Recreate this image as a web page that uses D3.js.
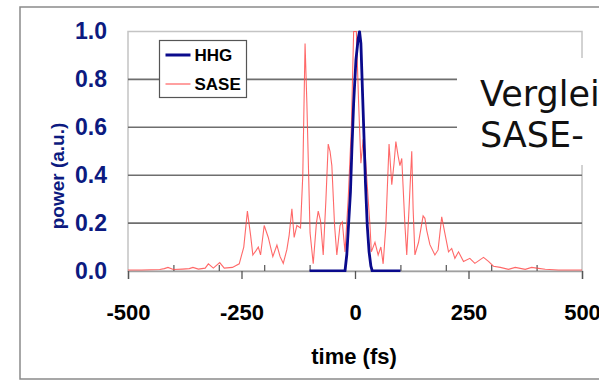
<!DOCTYPE html>
<html>
<head>
<meta charset="utf-8">
<script src="https://cdn.jsdelivr.net/npm/d3@7/dist/d3.min.js"></script>
<style>
  body { margin: 0; background: #fff; }
</style>
</head>
<body>
<div id="chart"></div>
<script>
// SASE pulse (time in fs, power in a.u.)
var saseTime = [-500, -470, -450, -430, -420, -412, -400, -380, -365, -357, -345, -330, -323, -312, -298, -288,
    -270, -255, -245, -237, -230, -225, -218, -213, -208, -200, -191, -181, -172, -165, -158, -150, -145, -139,
    -134, -128, -120, -115, -110, -106, -103, -99, -92, -85, -81, -76, -70, -64, -59, -55, -51, -45, -40, -33,
    -28, -22, -15, -8, -3, 3, 8, 13, 18, 22, 29, 33, 36, 44, 51, 57, 62, 68, 75, 81, 86, 90, 95, 99, 103, 110,
    114, 120, 125, 128, 132, 140, 150, 154, 158, 165, 176, 183, 191, 198, 206, 213, 220, 228, 239, 253, 264,
    283, 294, 305, 320, 338, 353, 375, 389, 404, 419, 448, 500];
var sasePower = [0.004, 0.004, 0.005, 0.006, 0.01, 0.015, 0.006, 0.008, 0.01, 0.015, 0.008, 0.012, 0.03, 0.012,
    0.035, 0.012, 0.015, 0.03, 0.1, 0.25, 0.15, 0.067, 0.085, 0.10, 0.067, 0.19, 0.14, 0.06, 0.108, 0.06, 0.032,
    0.09, 0.15, 0.26, 0.14, 0.19, 0.18, 0.4, 0.95, 0.7, 0.47, 0.16, 0.03, 0.2, 0.25, 0.21, 0.067, 0.3, 0.53, 0.5,
    0.44, 0.19, 0.067, 0.19, 0.205, 0.08, 0.30, 0.6, 1.0, 1.0, 0.7, 0.45, 0.55, 0.5, 0.30, 0.19, 0.08, 0.12,
    0.067, 0.10, 0.03, 0.19, 0.53, 0.36, 0.45, 0.54, 0.48, 0.44, 0.47, 0.19, 0.067, 0.3, 0.50, 0.26, 0.067,
    0.12, 0.23, 0.22, 0.17, 0.11, 0.067, 0.088, 0.226, 0.157, 0.08, 0.094, 0.053, 0.08, 0.04, 0.053, 0.032,
    0.057, 0.04, 0.02, 0.015, 0.007, 0.015, 0.007, 0.015, 0.011, 0.007, 0.004, 0.004];

// HHG pulse
var hhgTime = [-100, -22, -18, -14, -10, -7, -3, 2, 7, 10, 13, 17, 20, 23, 27, 31, 35, 38, 100];
var hhgPower = [0, 0, 0.07, 0.2, 0.33, 0.5, 0.7, 0.88, 0.97, 1.0, 0.95, 0.72, 0.55, 0.37, 0.19, 0.08, 0.02, 0, 0];

var xTicks = [-500, -250, 0, 250, 500];
var xMinorTicks = [-400, -300, -200, -100, 100, 200, 300, 400];
var yTicks = [0, 0.2, 0.4, 0.6, 0.8, 1.0];
var legendNames = ["HHG", "SASE"];
var overlayLines = ["Verglei", "SASE-"];

var width = 599;
var height = 381;

var svg = d3.select("#chart")
    .append("svg")
    .attr("width", width)
    .attr("height", height);

// outer frame of the slide picture
svg.append("path")
    .attr("d", "M599,7H20V379H599")
    .attr("fill", "none")
    .attr("stroke", "#8a8a8a")
    .attr("stroke-width", 1.5);

var x = d3.scaleLinear().domain([-500, 500]).range([128, 582]);
var y = d3.scaleLinear().domain([0, 1]).range([271, 31.5]);

// plot border (light) and grid lines (dark)
svg.append("rect")
    .attr("x", x(-500))
    .attr("y", y(1))
    .attr("width", x(500) - x(-500))
    .attr("height", y(0) - y(1))
    .attr("fill", "none")
    .attr("stroke", "#c4c4c4")
    .attr("stroke-width", 1.5);

svg.selectAll(".grid")
    .data(yTicks.filter(d => d > 0 && d < 1))
    .enter()
    .append("line")
    .attr("class", "grid")
    .attr("x1", x(-500))
    .attr("x2", x(500))
    .attr("y1", d => y(d))
    .attr("y2", d => y(d))
    .attr("stroke", "#6e6e6e")
    .attr("stroke-width", 1.6);

// x axis: major ticks below, minor ticks above
var xAxis = svg.append("g")
    .attr("transform", "translate(0," + y(0) + ")")
    .call(d3.axisBottom(x).tickValues(xTicks).tickSize(8).tickPadding(25).tickFormat(d => String(d)));
xAxis.select(".domain").attr("stroke", "#a0a0a0").attr("stroke-width", 1.5);
xAxis.selectAll(".tick line").attr("stroke", "#555").attr("stroke-width", 1.3);
xAxis.selectAll("text")
    .attr("font-family", "Liberation Sans, Arial, sans-serif")
    .attr("font-weight", "bold")
    .attr("font-size", 22)
    .attr("fill", "#000");

var xMinor = svg.append("g")
    .attr("transform", "translate(0," + y(0) + ")")
    .call(d3.axisBottom(x).tickValues(xMinorTicks).tickSize(-6).tickFormat(""));
xMinor.select(".domain").remove();
xMinor.selectAll(".tick line").attr("stroke", "#555").attr("stroke-width", 1.2);

// y axis labels
var yAxis = svg.append("g")
    .attr("transform", "translate(" + x(-500) + ",0)")
    .call(d3.axisLeft(y).tickValues(yTicks).tickSize(0).tickPadding(21).tickFormat(d3.format(".1f")));
yAxis.select(".domain").remove();
yAxis.selectAll("text")
    .attr("font-family", "Liberation Sans, Arial, sans-serif")
    .attr("font-weight", "bold")
    .attr("font-size", 23)
    .attr("fill", "#0c1a80");

svg.append("text")
    .attr("transform", "translate(64,176) rotate(-90)")
    .attr("text-anchor", "middle")
    .attr("font-family", "Liberation Sans, Arial, sans-serif")
    .attr("font-weight", "bold")
    .attr("font-size", 19)
    .attr("fill", "#0c1a80")
    .text("power (a.u.)");

svg.append("text")
    .attr("x", 354)
    .attr("y", 364)
    .attr("text-anchor", "middle")
    .attr("font-family", "Liberation Sans, Arial, sans-serif")
    .attr("font-weight", "bold")
    .attr("font-size", 22)
    .attr("fill", "#000")
    .text("time (fs)");

// the two pulses
svg.append("clipPath")
    .attr("id", "plotClip")
    .append("rect")
    .attr("x", x(-500))
    .attr("y", y(1) - 1)
    .attr("width", x(500) - x(-500))
    .attr("height", y(0) - y(1) + 2);

var line = d3.line()
    .x(d => x(d[0]))
    .y(d => y(d[1]));

svg.append("path")
    .datum(d3.zip(saseTime, sasePower))
    .attr("clip-path", "url(#plotClip)")
    .attr("d", line)
    .attr("fill", "none")
    .attr("stroke", "#ff4d4d")
    .attr("stroke-opacity", 0.85)
    .attr("stroke-width", 1.1);

svg.append("path")
    .datum(d3.zip(hhgTime, hhgPower))
    .attr("clip-path", "url(#plotClip)")
    .attr("d", line)
    .attr("fill", "none")
    .attr("stroke", "#0a0a8c")
    .attr("stroke-width", 2.8)
    .attr("stroke-linejoin", "round");

// legend
var legend = svg.append("g").attr("transform", "translate(159.5,40.5)");
legend.append("rect")
    .attr("width", 87)
    .attr("height", 57)
    .attr("fill", "#fff")
    .attr("stroke", "#555")
    .attr("stroke-width", 1.2);

var legendColor = ["#0a0a8c", "#ff8080"];
var legendWidth = [3, 1.5];
var item = legend.selectAll(".item")
    .data(legendNames)
    .enter()
    .append("g")
    .attr("class", "item")
    .attr("transform", (d, i) => "translate(0," + (14.5 + i * 29) + ")");
item.append("line")
    .attr("x1", 6)
    .attr("x2", 31)
    .attr("stroke", (d, i) => legendColor[i])
    .attr("stroke-width", (d, i) => legendWidth[i]);
item.append("text")
    .attr("x", 35)
    .attr("dy", "0.36em")
    .attr("font-family", "Liberation Sans, Arial, sans-serif")
    .attr("font-weight", "bold")
    .attr("font-size", 17)
    .attr("fill", "#000")
    .text(d => d);

// white slide text box laid over the chart
svg.append("rect")
    .attr("x", 457)
    .attr("y", 58)
    .attr("width", 142)
    .attr("height", 107)
    .attr("fill", "#fff");

svg.selectAll(".overlay")
    .data(overlayLines)
    .enter()
    .append("text")
    .attr("class", "overlay")
    .attr("x", 480)
    .attr("y", (d, i) => 106 + i * 41)
    .attr("font-family", "DejaVu Sans, Verdana, sans-serif")
    .attr("font-size", 35)
    .attr("fill", "#111")
    .text(d => d);
</script>
</body>
</html>
